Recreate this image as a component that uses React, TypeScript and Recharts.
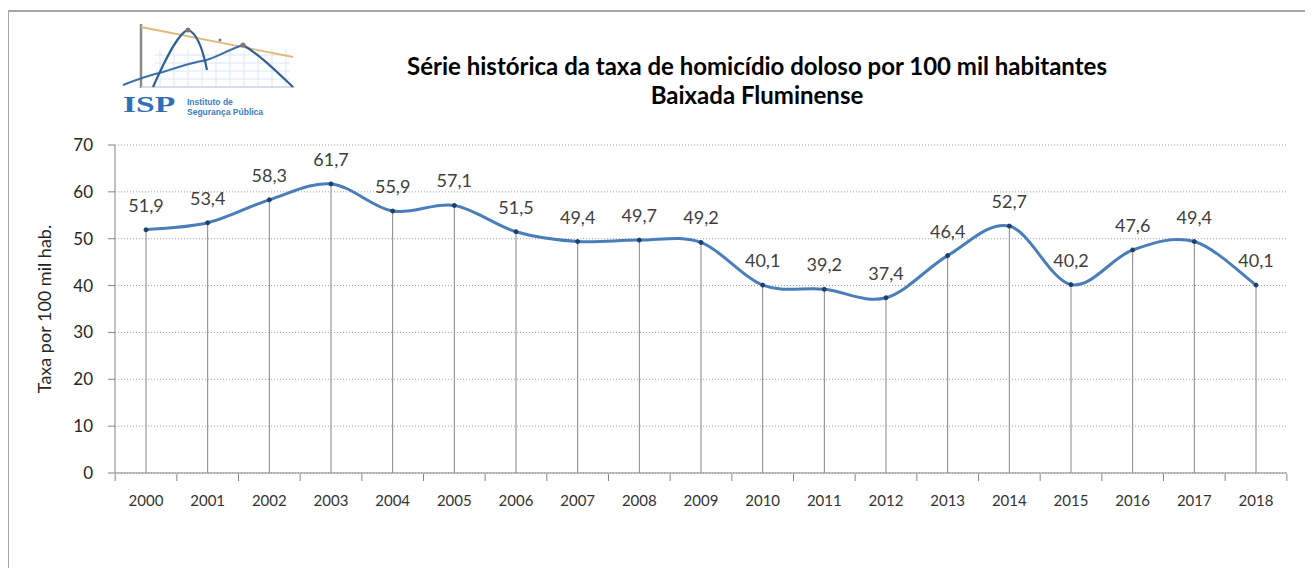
import React from 'react';
import { LineChart, Line, XAxis, YAxis, CartesianGrid, LabelList, ReferenceLine } from 'recharts';

const years = ['2000','2001','2002','2003','2004','2005','2006','2007','2008','2009','2010','2011','2012','2013','2014','2015','2016','2017','2018'];
const rates = [51.9,53.4,58.3,61.7,55.9,57.1,51.5,49.4,49.7,49.2,40.1,39.2,37.4,46.4,52.7,40.2,47.6,49.4,40.1];
const yTicks = [0,10,20,30,40,50,60,70];
const titleLine1 = 'Série histórica da taxa de homicídio doloso por 100 mil habitantes';
const titleLine2 = 'Baixada Fluminense';
const yLabel = 'Taxa por 100 mil hab.';

const data = years.map((y, i) => ({ year: y, rate: rates[i] }));

const FONT = 'Lato, "Open Sans", sans-serif';

// Excel-like smoothed line (Catmull-Rom style bezier)
const excelSmooth: any = (context: any) => {
  let pts: number[][] = [];
  return {
    areaStart() {},
    areaEnd() {},
    lineStart() { pts = []; },
    point(x: number, y: number) { pts.push([+x, +y]); },
    lineEnd() {
      if (!pts.length) return;
      context.moveTo(pts[0][0], pts[0][1]);
      for (let i = 0; i < pts.length - 1; i++) {
        const p0 = pts[i - 1] || pts[i];
        const p1 = pts[i];
        const p2 = pts[i + 1];
        const p3 = pts[i + 2] || p2;
        context.bezierCurveTo(
          p1[0] + (p2[0] - p0[0]) / 6, p1[1] + (p2[1] - p0[1]) / 6,
          p2[0] - (p3[0] - p1[0]) / 6, p2[1] - (p3[1] - p1[1]) / 6,
          p2[0], p2[1]
        );
      }
    },
  };
};

const XTick = (props: any) => {
  const { x, y, payload, index, visibleTicksCount, width } = props;
  const n = visibleTicksCount || years.length;
  const bw = width / n;
  const last = index === n - 1;
  return (
    <g>
      <line x1={x - bw / 2} x2={x - bw / 2} y1={y - 7} y2={y} stroke="#868686" strokeWidth={1} />
      {last && <line x1={x + bw / 2} x2={x + bw / 2} y1={y - 7} y2={y} stroke="#868686" strokeWidth={1} />}
      <text x={x} y={y + 25} textAnchor="middle" fontFamily={FONT} fontSize={15} fill="#333">{payload.value}</text>
    </g>
  );
};

const Logo = () => (
  <svg width={200} height={115} style={{ position: 'absolute', left: 102, top: 7 }}>
    <g stroke="#dde6f2" strokeWidth={1}>
      {[50, 64, 78, 92, 106, 120, 134, 148, 162, 176].map((gx) => (
        <line key={gx} x1={gx} x2={gx} y1={35} y2={72} />
      ))}
      {[40, 48, 56, 64].map((gy) => (
        <line key={gy} x1={45} x2={180} y1={gy} y2={gy} />
      ))}
    </g>
    <line x1={31} x2={31} y1={9} y2={73} stroke="#8a8a8a" strokeWidth={2.5} />
    <line x1={31} x2={185} y1={72} y2={72} stroke="#c9d6e6" strokeWidth={1.5} />
    <line x1={31} x2={183} y1={12} y2={42} stroke="#e3b87a" strokeWidth={1.8} />
    <path d="M 13 70 C 28 64, 40 60, 53 57 C 68 52, 80 48, 92 46 C 104 44, 115 36, 133 30" fill="none" stroke="#3a6fa8" strokeWidth={2} />
    <path d="M 43 72 C 55 45, 68 18, 78 15 C 88 18, 94 40, 97 55" fill="none" stroke="#2f5f95" strokeWidth={2.2} />
    <path d="M 133 30 C 150 40, 165 55, 183 72" fill="none" stroke="#2f5f95" strokeWidth={2.2} />
    <circle cx={78} cy={15} r={2.5} fill="#7a7a7a" />
    <circle cx={133} cy={30} r={2.5} fill="#7a7a7a" />
    <circle cx={110} cy={25} r={1.5} fill="#7a7a7a" />
  </svg>
);

export default function App() {
  return (
    <div style={{ position: 'relative', width: 1305, height: 560, background: '#fff' }}>
      <div style={{ position: 'absolute', left: 0, top: 2, width: 1305, height: 2, background: '#a6a6a6' }} />
      <div style={{ position: 'absolute', left: -1, top: 2, width: 2, height: 558, background: '#a6a6a6' }} />
      <Logo />
      <div style={{ position: 'absolute', left: 115, top: 84, fontFamily: '"Liberation Serif", "Times New Roman", serif', fontWeight: 'bold', fontSize: 24, color: '#2f6fb8', lineHeight: '24px', transform: 'scaleX(1.4)', transformOrigin: 'left top' }}>ISP</div>
      <div style={{ position: 'absolute', left: 179, top: 89, fontFamily: '"Liberation Sans", Arial, sans-serif', fontWeight: 'bold', fontSize: 8.5, color: '#3a7cc4', lineHeight: '10px' }}>
        Instituto de<br />Segurança Pública
      </div>
      <div style={{ position: 'absolute', left: 349, width: 800, top: 43, textAlign: 'center', fontFamily: FONT, fontWeight: 'bold', fontSize: 24, color: '#000', lineHeight: '29px' }}>
        {titleLine1}<br />{titleLine2}
      </div>
      <div style={{ position: 'absolute', left: 0, top: 0 }}>
        <LineChart width={1297} height={552} data={data} margin={{ top: 137, right: 18, left: 0, bottom: 57 }}>
          <CartesianGrid vertical={false} stroke="#a0a0a0" strokeDasharray="1 2" />
          <XAxis
            dataKey="year"
            height={30}
            padding={{ left: 31, right: 31 }}
            axisLine={{ stroke: '#868686' }}
            tickLine={false}
            tick={<XTick />}
            interval={0}
          />
          <YAxis
            width={107}
            domain={[0, 70]}
            ticks={yTicks}
            interval={0}
            axisLine={{ stroke: '#868686' }}
            tickLine={{ stroke: '#868686' }}
            tickSize={7}
            tickMargin={15}
            tick={{ fontFamily: FONT, fontSize: 17, fill: '#262626' }}
            label={{
              value: yLabel,
              content: (p: any) => {
                const vb = p.viewBox;
                const cx = vb.x + 43;
                const cy = vb.y + vb.height / 2;
                return (
                  <text x={cx} y={cy} transform={`rotate(-90, ${cx}, ${cy})`} textAnchor="middle" fontFamily={FONT} fontSize={18} fill="#262626">
                    {yLabel}
                  </text>
                );
              },
            }}
          />
          {data.map((d) => (
            <ReferenceLine
              key={d.year}
              segment={[{ x: d.year, y: 0 }, { x: d.year, y: d.rate }]}
              stroke="#868686"
              strokeWidth={1}
              ifOverflow="visible"
            />
          ))}
          <Line
            dataKey="rate"
            type={excelSmooth}
            stroke="#4a7ebb"
            strokeWidth={3}
            dot={{ r: 2, fill: '#1f3f6b', stroke: '#1f3f6b', strokeWidth: 1 }}
            activeDot={false}
            isAnimationActive={false}
          >
            <LabelList
              dataKey="rate"
              position="top"
              offset={18}
              formatter={(v: any) => String(v).replace('.', ',')}
              style={{ fontFamily: FONT, fontSize: 18, fill: '#404040' }}
            />
          </Line>
        </LineChart>
      </div>
    </div>
  );
}
